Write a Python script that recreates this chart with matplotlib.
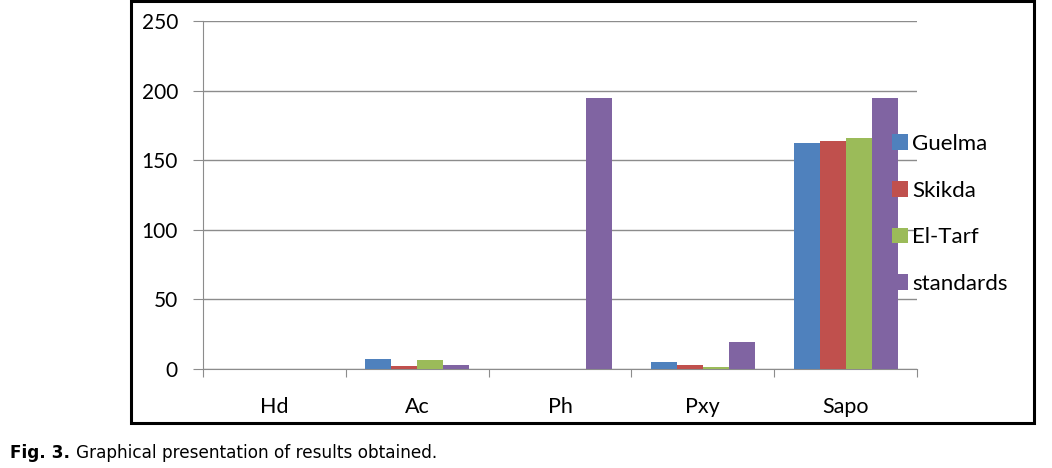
import matplotlib.pyplot as plt
import numpy as np
from matplotlib.patches import Rectangle

categories = ["Hd", "Ac", "Ph", "Pxy", "Sapo"]
guelma = [0, 7.4, 0, 4.8, 162.5]
skikda = [0, 2.1, 0, 2.9, 164]
el_tarf = [0, 6.4, 0, 1.2, 165.7]
standards = [0, 2.9, 195, 19.5, 195]

series_names = ["Guelma", "Skikda", "El-Tarf", "standards"]
colors = ["#4f81bd", "#c0504d", "#9bbb59", "#8064a2"]

plt.rcParams['font.family'] = ['Lato', 'DejaVu Sans']

fig = plt.figure(figsize=(10.52, 4.68), dpi=100)
ax = fig.add_axes([203/1052, 1 - 369/468, (917-203)/1052, (369-21)/468])

x = np.arange(len(categories))
w = 1 / 5.5
series = [guelma, skikda, el_tarf, standards]
for i, (vals, name, c) in enumerate(zip(series, series_names, colors)):
    ax.bar(x + (i - 1.5) * w, vals, width=w, color=c, label=name, zorder=3)

ax.set_xlim(-0.5, len(categories) - 0.5)
ax.set_ylim(0, 250)
ax.set_yticks(range(0, 251, 50))
ax.grid(axis='y', color='#8c8c8c', linewidth=1, zorder=0)
for s in ['top', 'right']:
    ax.spines[s].set_visible(False)
ax.spines['left'].set_color('#8c8c8c')
ax.spines['bottom'].set_color('#8c8c8c')

# category ticks on the boundaries, labels in the middle
ax.set_xticks(np.arange(-0.5, len(categories)), minor=False)
ax.set_xticklabels([])
ax.set_xticks(x, minor=True)
ax.set_xticklabels(categories, minor=True, fontsize=15.5)
ax.tick_params(axis='x', which='major', length=6, color='#8c8c8c')
ax.tick_params(axis='x', which='minor', length=0, pad=20)
ax.tick_params(axis='y', length=7, color='#8c8c8c', labelsize=15, pad=11)

fig.legend(loc='upper left', bbox_to_anchor=(892/1052, 1 - 134/468),
           frameon=False, fontsize=16, handlelength=0.7, handleheight=0.7,
           handletextpad=0.2, labelspacing=1.2, borderaxespad=0, borderpad=0)

fig.add_artist(Rectangle((131/1052, 1 - 423/468), (1034-131)/1052, 422/468,
                         transform=fig.transFigure, fill=False,
                         edgecolor='black', linewidth=2.2))

fig.text(10/1052, 1 - 453/468, "Fig. 3.", fontweight='bold', fontsize=12.2,
         va='center', family='DejaVu Sans')
fig.text(76/1052, 1 - 453/468, "Graphical presentation of results obtained.",
         fontsize=12.2, va='center', family='DejaVu Sans')

fig.savefig('out.png', dpi=100)
